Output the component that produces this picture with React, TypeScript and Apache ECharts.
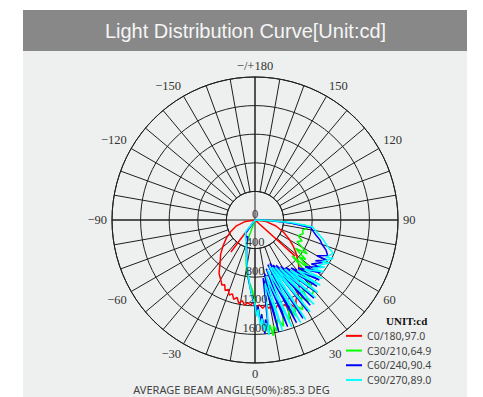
import React, { useEffect, useRef } from 'react';
import * as echarts from 'echarts';

// ---- tick labels ----
const angleLabels: Record<number, string> = {
  0: '0', 30: '30', 60: '60', 90: '90', 120: '120', 150: '150', 180: '\u2212/+180',
  210: '\u2212150', 240: '\u2212120', 270: '\u221290', 300: '\u221260', 330: '\u221230',
};
const radiusMax = 2000;
const radiusStep = 400;
const hiddenRadiusLabels = [2000];

// ---- series ----
const seriesNames = ['C0/180,97.0', 'C30/210,64.9', 'C60/240,90.4', 'C90/270,89.0'];
const seriesColors = ['#ff0000', '#00ff00', '#0000ff', '#00ffff'];

// [gamma (deg, 0 = nadir, + to the right), intensity (cd)]
const c0Curve: number[][] = [
  [-37, 560], [-90, 0], [-80, 150], [-72, 280], [-65, 370], [-58, 470], [-51, 575], [-45, 680],
  [-39, 775], [-34, 900], [-30, 960], [-27, 1020], [-25, 1000], [-23, 1070], [-21, 1040], [-19, 1110],
  [-17, 1080], [-15, 1150], [-13, 1110], [-11, 1190], [-9, 1140], [-7, 1200], [-5, 1160], [-3, 1190],
  [-1, 1150], [1, 1220], [3, 1190], [5, 1240], [7, 1200], [9, 1250], [11, 1220], [13, 1270],
  [15, 1230], [17, 1300], [19, 1250], [21, 1320], [23, 1280], [25, 1370], [27, 1260], [30, 1190],
  [33, 1130], [36, 1050], [40, 960], [45, 860], [51, 740], [56, 640], [61, 545], [67, 430],
  [74, 305], [82, 160], [90, 0], [48, 755],
];

const c30Curve: number[][] = [
  [-90, 0], [-20, 300], [-17, 420], [-12, 600], [-8, 785], [-5, 880], [-2, 990], [0, 1170],
  [1, 1300], [2, 1220], [3, 1420], [4, 1330], [5, 1560], [6, 1420], [7, 1600], [8, 1480],
  [9, 1640], [10, 1500], [11, 1580], [13, 1420], [15, 1540], [17, 1290], [19, 1480], [21, 1300],
  [23, 1460], [25, 1310], [28, 1420], [31, 1250], [33, 1370], [35, 1150], [37, 1320], [40, 1280],
  [42, 950], [44, 1100], [46, 720], [48, 1060], [50, 800], [52, 900], [55, 690], [57, 870],
  [60, 760], [63, 660], [66, 720], [70, 640], [74, 700], [78, 680], [81, 740], [84, 710],
  [87, 300], [90, 0],
];

const c60Curve: number[][] = [
  [-90, 0], [-35, 230], [-28, 270], [-24, 250], [-18, 380], [-13, 520], [-9, 680], [-6, 850],
  [-3, 1020], [-1, 1150], [1, 1280], [2, 1200], [3, 1450], [4, 1320], [5, 1600], [6, 1400],
  [7, 1560], [8, 820], [12, 1600], [10, 760], [17, 1560], [13, 700], [22, 1550], [16, 650],
  [26, 1530], [19, 640], [30, 1470], [22, 680], [33, 1420], [25, 700], [37, 1370], [29, 740],
  [40, 1310], [33, 790], [43, 1270], [37, 840], [47, 1230], [42, 900], [51, 1180], [47, 960],
  [55, 1150], [52, 1000], [58, 1120], [56, 1020], [61, 1150], [60, 1000], [64, 1130], [67, 1080],
  [70, 1000], [73, 950], [76, 880], [79, 830], [82, 790], [85, 500], [88, 200], [90, 0],
];

const c90Curve: number[][] = [
  [-90, 0], [-38, 210], [-30, 270], [-22, 330], [-16, 450], [-11, 600], [-7, 780], [-4, 950],
  [-2, 1080], [0, 1180], [1, 1350], [2, 1250], [3, 1500], [4, 1380], [5, 1560], [6, 1450],
  [7, 1620], [9, 900], [14, 1600], [11, 800], [19, 1580], [14, 720], [24, 1570], [17, 680],
  [27, 1560], [20, 700], [31, 1500], [23, 720], [35, 1440], [27, 760], [38, 1380], [31, 800],
  [41, 1340], [35, 860], [45, 1290], [40, 920], [49, 1250], [45, 980], [53, 1200], [50, 1050],
  [56, 1180], [54, 1080], [60, 1200], [58, 1100], [64, 1220], [62, 1120], [67, 1190], [70, 1080],
  [74, 990], [77, 920], [80, 860], [83, 815], [86, 500], [88, 200], [90, 0],
];

const curves = [c0Curve, c30Curve, c60Curve, c90Curve];

const titleText = 'Light Distribution Curve[Unit:cd]';
const unitText = 'UNIT:cd';
const beamText = 'AVERAGE BEAM ANGLE(50%):85.3 DEG';

// ---- layout ----
const W = 483;
const H = 397;
const CX = 255;
const CY = 220;
const R = 143;
const GRID = '#1e1e1e';
const SERIF = '"Liberation Serif", "Times New Roman", serif';
const SANS = '"Noto Sans", "Open Sans", sans-serif';

const toPolar = (pts: number[][]) => pts.map(([g, cd]) => [cd, (g + 360) % 360]);

export default function App() {
  const ref = useRef<HTMLDivElement>(null);
  useEffect(() => {
    if (!ref.current) return;
    const chart = echarts.init(ref.current, null, { renderer: 'svg' });
    const option: any = {
      animation: false,
      backgroundColor: '#ffffff',
      graphic: {
        elements: [
          { type: 'rect', z: -10, silent: true, shape: { x: 23, y: 10, width: 444, height: 387 }, style: { fill: '#eef0ef' } },
          { type: 'rect', z: -9, silent: true, shape: { x: 23, y: 10, width: 444, height: 41 }, style: { fill: '#888888' } },
          { type: 'text', z: 10, x: 245.5, y: 31, style: { text: titleText, align: 'center', verticalAlign: 'middle', fill: '#f5f5f5', font: '20px "Liberation Sans", Arial, sans-serif' } },
          { type: 'text', z: 10, x: 386, y: 321, style: { text: unitText, align: 'left', verticalAlign: 'middle', fill: '#111', font: 'bold 11px "Liberation Serif", serif' } },
          { type: 'text', z: 10, x: 231.5, y: 389, style: { text: beamText, align: 'center', verticalAlign: 'middle', fill: '#444', font: '11px "Noto Sans", sans-serif', lineHeight: 11 } },
        ],
      },
      legend: {
        orient: 'vertical',
        left: 346,
        top: 329,
        padding: 0,
        itemWidth: 16,
        itemHeight: 2,
        itemGap: 1,
        icon: 'rect',
        data: seriesNames,
        textStyle: { fontFamily: SANS, fontSize: 10.5, color: '#444', lineHeight: 13.7 },
      },
      polar: [
        { center: [CX, CY], radius: [(R * radiusStep) / radiusMax, R] },
        { center: [CX, CY], radius: [0, R] },
      ],
      angleAxis: [
        {
          polarIndex: 0, type: 'value', min: 0, max: 360, interval: 10, startAngle: 270, clockwise: false,
          axisLine: { show: true, lineStyle: { color: GRID, width: 1 } },
          axisTick: { show: false },
          splitLine: { show: true, lineStyle: { color: GRID, width: 1 } },
          axisLabel: {
            margin: 5, color: '#333', fontFamily: SERIF, fontSize: 12.5, lineHeight: 12,
            formatter: (v: number) => angleLabels[v] ?? '',
          },
        },
        {
          polarIndex: 1, type: 'value', min: 0, max: 360, interval: 90, startAngle: 270, clockwise: false,
          axisLine: { show: false }, axisTick: { show: false }, axisLabel: { show: false },
          splitLine: { show: true, lineStyle: { color: GRID, width: 1 } },
        },
      ],
      radiusAxis: [
        {
          polarIndex: 0, type: 'value', min: radiusStep, max: radiusMax, interval: radiusStep,
          axisLine: { show: false }, axisTick: { show: false }, axisLabel: { show: false },
          splitLine: { show: true, lineStyle: { color: GRID, width: 1 } },
        },
        {
          polarIndex: 1, type: 'value', min: 0, max: radiusMax, interval: radiusStep, z: 10,
          axisLine: { show: false }, axisTick: { show: false }, splitLine: { show: false },
          axisLabel: {
            margin: 0, align: 'center', verticalAlign: 'bottom', color: '#333', fontFamily: SERIF, fontSize: 12.5,
            formatter: (v: number) => (hiddenRadiusLabels.includes(v) ? '' : String(v)),
          },
        },
      ],
      series: curves.map((c, i) => ({
        name: seriesNames[i],
        type: 'line',
        coordinateSystem: 'polar',
        polarIndex: 1,
        data: toPolar(c),
        symbol: 'none',
        showSymbol: false,
        smooth: false,
        lineStyle: { color: seriesColors[i], width: 1.5 },
        itemStyle: { color: seriesColors[i] },
        z: 2 + i,
      })),
    };
    chart.setOption(option);
    return () => chart.dispose();
  }, []);
  return <div ref={ref} style={{ position: 'absolute', left: 0, top: 0, width: W, height: H }} />;
}
